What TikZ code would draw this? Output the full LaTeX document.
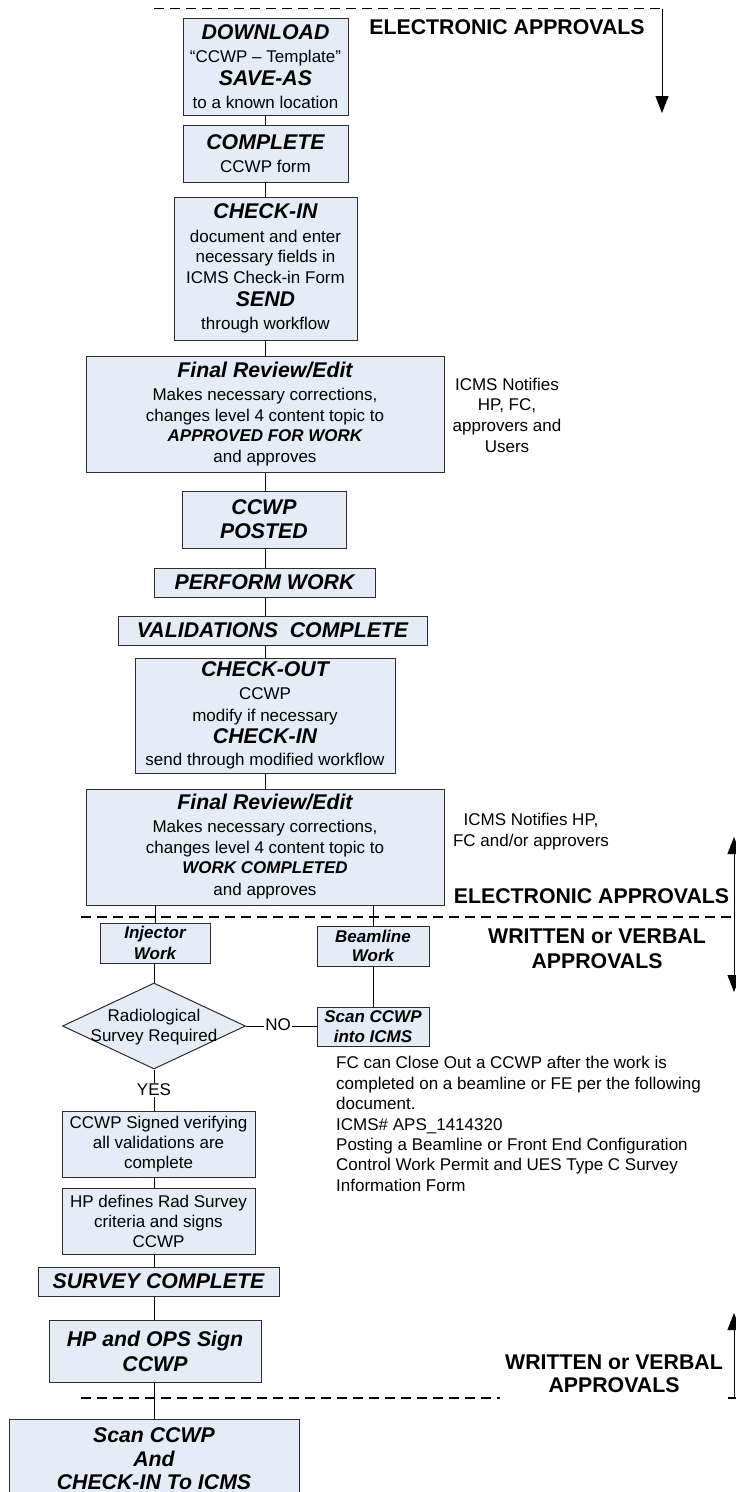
\documentclass[tikz,border=0pt]{standalone}
\usepackage{fontspec}
\setmainfont{Liberation Sans}
\usetikzlibrary{shapes.geometric,arrows.meta}
\definecolor{boxfill}{RGB}{230,236,246}
\definecolor{boxline}{RGB}{45,45,45}
\newcommand\BodyF{\fontsize{17}{20.5}\selectfont}
\newcommand\HeadF{\fontsize{21.3}{23}\selectfont\bfseries\itshape}
\newcommand\HdTxt[1]{{\HeadF #1}}
\newcommand\BiTxt[1]{{\bfseries\itshape #1}}
\begin{document}
\begin{tikzpicture}[x=1pt,y=-1pt,
  box/.style={draw=boxline, fill=boxfill, line width=1pt, inner sep=0pt, align=center, font=\BodyF},
  conn/.style={draw=black, line width=0.9pt},
  sepline/.style={draw=black, line width=1.2pt, dash pattern=on 10pt off 6pt},
  bigarrow/.style={line width=1pt, -{Triangle[length=17pt,width=13pt]}},
  lab/.style={font=\fontsize{21.3}{25}\selectfont\bfseries, align=center, inner sep=0pt},
  plaintxt/.style={font=\fontsize{17}{20.7}\selectfont, align=center, inner sep=0pt}
]
\useasboundingbox (0,0) rectangle (736,1492);

% ---------- boxes ----------
\node[box, minimum width=165pt, minimum height=97pt] (dl) at (265.5,66.5)
  {\HdTxt{DOWNLOAD}\\[3pt] “CCWP – Template”\\[2.5pt] \HdTxt{SAVE-AS}\\[2.5pt] to a known location};
\node[box, minimum width=165pt, minimum height=57pt] (cp) at (265.5,153.5)
  {\HdTxt{COMPLETE}\\[2.5pt] CCWP form};
\node[box, minimum width=183pt, minimum height=143pt] (ci) at (265.5,268.5)
  {\HdTxt{CHECK-IN}\\[3pt] document and enter\\ necessary fields in\\ ICMS Check-in Form\\[3pt] \HdTxt{SEND}\\[2pt] through workflow};
\node[box, minimum width=358pt, minimum height=116pt] (fr1) at (265,414)
  {\HdTxt{Final Review/Edit}\\[3pt] Makes necessary corrections,\\ changes level 4 content topic to\\ \BiTxt{APPROVED FOR WORK}\\ and approves};
\node[box, minimum width=164pt, minimum height=57pt] (posted) at (264,519.5)
  {\HdTxt{CCWP}\\[3.5pt] \HdTxt{POSTED}};
\node[box, minimum width=221pt, minimum height=29pt] (perform) at (264.5,582.5)
  {\HdTxt{PERFORM WORK}};
\node[box, minimum width=309pt, minimum height=29pt] (valid) at (272.5,630.5)
  {\HdTxt{VALIDATIONS\ \ COMPLETE}};
\node[box, minimum width=260pt, minimum height=115pt] (co) at (265,715.5)
  {\HdTxt{CHECK-OUT}\\[2pt] CCWP\\[1.5pt] modify if necessary\\[1.5pt] \HdTxt{CHECK-IN}\\[1.5pt] send through modified workflow};
\node[box, minimum width=358pt, minimum height=116pt] (fr2) at (265,847)
  {\HdTxt{Final Review/Edit}\\[2.5pt] Makes necessary corrections,\\ changes level 4 content topic to\\ \BiTxt{WORK COMPLETED}\\[1.5pt] and approves};
\node[box, minimum width=110pt, minimum height=40pt] (inj) at (155,943)
  {\BiTxt{Injector}\\ \BiTxt{Work}};
\node[box, minimum width=112pt, minimum height=40pt] (beam) at (373,946)
  {\BiTxt{Beamline}\\[-1pt] \BiTxt{Work}};
\node[box, minimum width=112pt, minimum height=39pt] (scan) at (373,1026.5)
  {\BiTxt{Scan CCWP}\\[-0.5pt] \BiTxt{into ICMS}};
\node[draw=boxline, fill=boxfill, line width=1pt, diamond, minimum width=183pt, minimum height=86pt, inner sep=0pt] (rad) at (154,1026) {};
\node[plaintxt] (radtxt) at (154,1027) {Radiological\\ Survey Required};
\node[box, minimum width=193pt, minimum height=66pt] (signed) at (158.5,1144)
  {CCWP Signed verifying\\[-0.5pt] all validations are\\[-0.5pt] complete};
\node[box, minimum width=193pt, minimum height=66pt] (hpdef) at (158.5,1221)
  {HP defines Rad Survey\\[-0.5pt] criteria and signs\\[-0.5pt] CCWP};
\node[box, minimum width=241pt, minimum height=29pt] (survey) at (158.5,1281.5)
  {\HdTxt{SURVEY COMPLETE}};
\node[box, minimum width=212pt, minimum height=62pt] (hpops) at (155,1351)
  {\HdTxt{HP and OPS Sign}\\[4.5pt] \HdTxt{CCWP}};
\node[box, minimum width=290pt, minimum height=80pt] (scanfinal) at (154,1459)
  {\HdTxt{Scan CCWP}\\[3pt] \HdTxt{And}\\[3pt] \HdTxt{CHECK-IN To ICMS}};

% ---------- side texts ----------
\node[lab] (elec1) at (507,27) {ELECTRONIC APPROVALS};
\node[lab] (elec2) at (591.5,896) {ELECTRONIC APPROVALS};
\node[lab] (written1) at (597,948.5) {WRITTEN or VERBAL\\ APPROVALS};
\node[lab, font=\fontsize{21.3}{23}\selectfont\bfseries] (written2) at (614,1373.5) {WRITTEN or VERBAL\\ APPROVALS};
\node[plaintxt] (notif1) at (507,415) {ICMS Notifies\\ HP, FC,\\ approvers and\\ Users};
\node[plaintxt] (notif2) at (531,831.5) {ICMS Notifies HP,\\ FC and/or approvers};
\node[plaintxt, align=left, anchor=west, font=\fontsize{17}{20.4}\selectfont] (fc) at (336,1124)
  {FC can Close Out a CCWP after the work is\\
   completed on a beamline or FE per the following\\
   document.\\
   ICMS\# APS\_1414320\\
   Posting a Beamline or Front End Configuration\\
   Control Work Permit and UES Type C Survey\\
   Information Form};

% ---------- separators and side arrows ----------
\coordinate (tl) at (154,8.5);
\coordinate (tr) at (662,8.5);
\coordinate (ta) at (662,113);
\draw[sepline] (tl) -- (tr);
\draw[bigarrow] (tr) -- (ta);

\coordinate (d2l) at (81,917);
\coordinate (d2r) at (742,917);
\draw[sepline] (d2l) -- (d2r);

\coordinate (d3l) at (81,1398);
\coordinate (d3m) at (500,1398);
\coordinate (d3n) at (728,1398);
\coordinate (d3r) at (742,1398);
\draw[sepline] (d3l) -- (d3m);
\draw[line width=1.2pt] (d3n) -- (d3r);

\coordinate (ma) at (734,837);
\coordinate (mb) at (734,992);
\draw[line width=1pt, {Triangle[length=17pt,width=13pt]}-{Triangle[length=17pt,width=13pt]}] (ma) -- (mb);

\coordinate (ba) at (734,1313);
\coordinate (bb) at (734,1399);
\draw[bigarrow] (bb) -- (ba);

% ---------- connectors ----------
\draw[conn] (dl.south) -- (dl.south |- cp.north);
\draw[conn] (cp.south) -- (cp.south |- ci.north);
\draw[conn] (ci.south) -- (ci.south |- fr1.north);
\draw[conn] (fr1.south) -- (fr1.south |- posted.north);
\draw[conn] (posted.south -| fr1.south) -- (perform.north -| fr1.south);
\draw[conn] (perform.south -| fr1.south) -- (valid.north -| fr1.south);
\draw[conn] (valid.south -| co.north) -- (co.north);
\draw[conn] (co.south) -- (co.south |- fr2.north);
\draw[conn] (inj.north) -- (inj.north |- fr2.south);
\draw[conn] (beam.north) -- (beam.north |- fr2.south);
\draw[conn] (rad.north) -- (rad.north |- inj.south);
\draw[conn] (beam.south) -- (beam.south |- scan.north);
\draw[conn] (rad.east) -- (rad.east -| scan.west);
\node[plaintxt, fill=white, inner sep=1pt] (no) at (278,1025) {NO};
\node[plaintxt, inner sep=1pt] (yes) at (154,1090) {YES};
\draw[conn] (rad.south) -- (yes.north);
\draw[conn] (yes.south) -- (yes.south |- signed.north);
\draw[conn] (signed.south -| yes) -- (hpdef.north -| yes);
\draw[conn] (hpdef.south -| yes) -- (survey.north -| yes);
\draw[conn] (survey.south -| yes) -- (hpops.north -| yes);
\draw[conn] (hpops.south -| yes) -- (scanfinal.north -| yes);
\end{tikzpicture}
\end{document}
